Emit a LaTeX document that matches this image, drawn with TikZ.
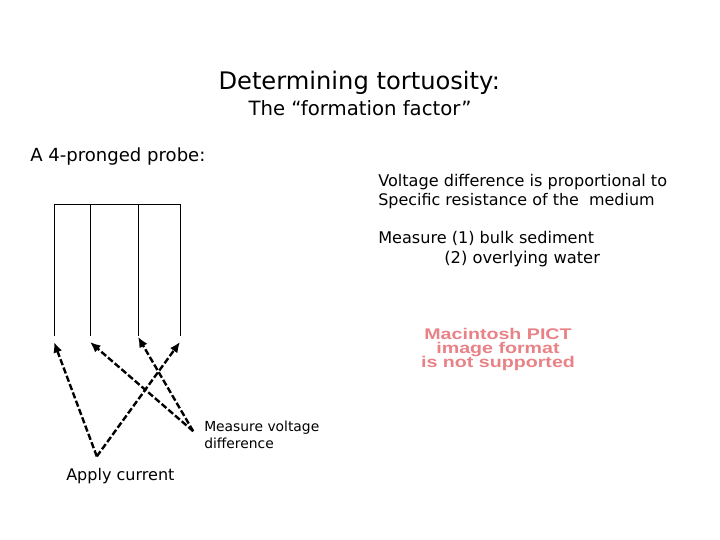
\documentclass[tikz,border=0pt]{standalone}
\usepackage{fontspec}
\setmainfont{DejaVu Sans}
\newfontfamily\pictfont{Liberation Sans}
\usetikzlibrary{arrows.meta}
\definecolor{pictred}{RGB}{232,130,135}
\tikzset{
    wire/.style={line width=0.7pt},
    probe/.style={line width=1.7pt,dash pattern=on 4.5pt off 1.8pt,-{Latex[length=7.5pt,width=6.5pt]}},
    label/.style={inner sep=0pt,anchor=base west},
    picttext/.style={inner sep=0pt,anchor=base,text=pictred,font=\pictfont\bfseries\fontsize{11}{12}\selectfont},
}
\begin{document}
\begin{tikzpicture}
    \useasboundingbox (0,0) rectangle (18,13.5);

    \node[inner sep=0pt,anchor=base] (title) at (8.98, 11.26) {\fontsize{17.2}{20}\selectfont Determining tortuosity:};
    \node[inner sep=0pt,anchor=base] (subtitle) at (9.0, 10.62) {\fontsize{14}{17}\selectfont The “formation factor”};
    \node[label] (intro) at (0.75, 9.45) {\fontsize{12.85}{15}\selectfont A 4-pronged probe:};

    \node[label] (prop1) at (9.45, 8.84) {\fontsize{11.45}{13}\selectfont Voltage difference is proportional to};
    \node[label] (prop2) at (9.45, 8.36) {\fontsize{11.35}{13}\selectfont Specific resistance of the\ \ medium};
    \node[label] (meas1) at (9.45, 7.4) {\fontsize{11.45}{13}\selectfont Measure (1) bulk sediment};
    \node[label] (meas2) at (11.1, 6.92) {\fontsize{11.6}{13}\selectfont (2) overlying water};

    % probe
    \coordinate (top1) at (1.35, 8.39);
    \coordinate (top2) at (2.25, 8.39);
    \coordinate (top3) at (3.45, 8.39);
    \coordinate (top4) at (4.5, 8.39);
    \coordinate (end1) at (1.35, 5.1);
    \coordinate (end2) at (2.25, 5.1);
    \coordinate (end3) at (3.45, 5.1);
    \coordinate (end4) at (4.5, 5.1);
    \draw[wire] (top1) -- (top4);
    \foreach \i in {1,...,4} {
        \draw[wire] (top\i) -- (end\i);
    }

    % arrows
    \coordinate (tip1) at (1.35, 4.95);
    \coordinate (tip2) at (2.25, 4.95);
    \coordinate (tip3) at (3.45, 5.08);
    \coordinate (tip4) at (4.5, 4.95);
    \coordinate (apply) at (2.42, 2.09);
    \coordinate (measure) at (4.83, 2.72);
    \draw[probe] (apply) -- (tip1);
    \draw[probe] (apply) -- (tip4);
    \draw[probe] (measure) -- (tip2);
    \draw[probe] (measure) -- (tip3);

    \node[label] (current) at (1.65, 1.49) {\fontsize{11.4}{13}\selectfont Apply current};
    \node[label] (voltage1) at (5.1, 2.72) {\fontsize{9.85}{11}\selectfont Measure voltage};
    \node[label] (voltage2) at (5.1, 2.28) {\fontsize{9.85}{11}\selectfont difference};

    % placeholder image
    \node[picttext] (pict1) at (12.45, 5.02) {\addfontfeature{FakeStretch=1.27}Macintosh PICT};
    \node[picttext] (pict2) at (12.45, 4.67) {\addfontfeature{FakeStretch=1.27}image format};
    \node[picttext] (pict3) at (12.45, 4.32) {\addfontfeature{FakeStretch=1.27}is not supported};
\end{tikzpicture}
\end{document}
